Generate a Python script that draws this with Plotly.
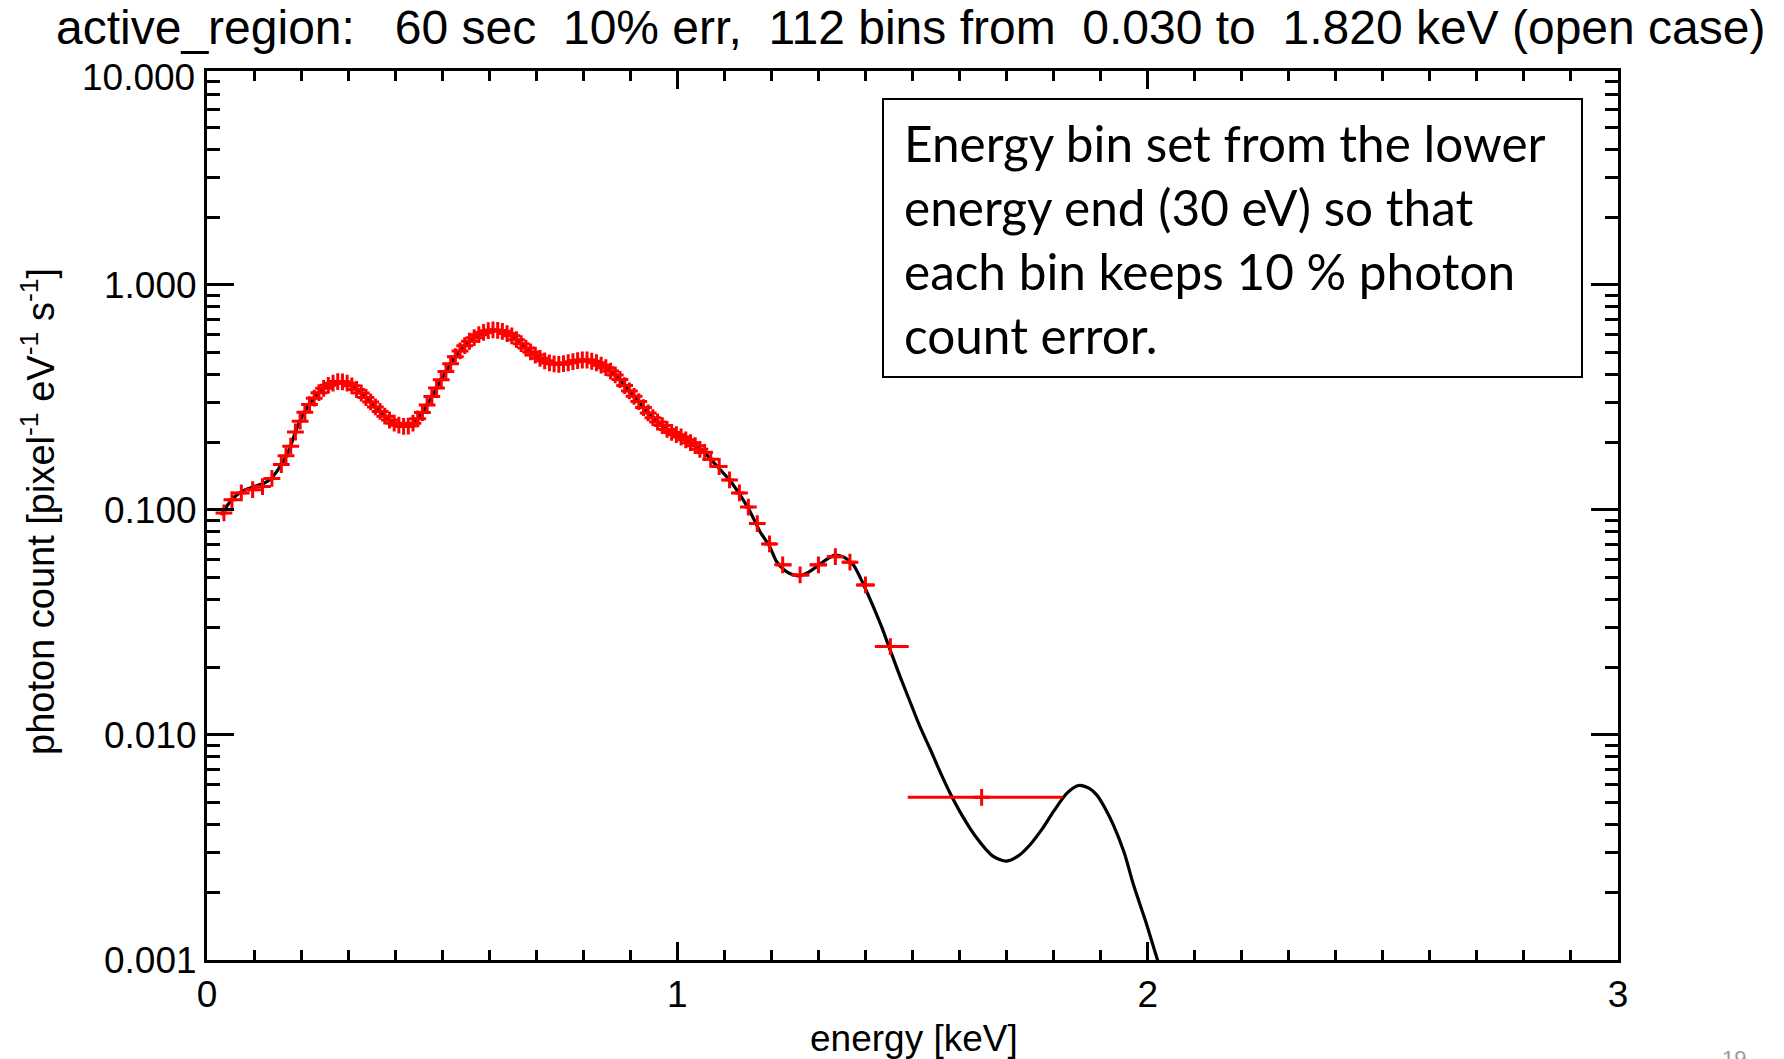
import plotly.graph_objects as go

# ---------------- data ----------------
# model spectrum (black curve): energy [keV], photon count
model_energy = [0.030, 0.045, 0.060, 0.075, 0.091, 0.105, 0.120, 0.135, 0.150, 0.162,
                0.176, 0.191, 0.212, 0.240, 0.260, 0.279, 0.295, 0.311, 0.330, 0.347,
                0.365, 0.382, 0.400, 0.418, 0.432, 0.446, 0.460, 0.474, 0.488, 0.502,
                0.516, 0.531, 0.548, 0.566, 0.585, 0.605, 0.625, 0.644, 0.665, 0.687,
                0.708, 0.729, 0.747, 0.765, 0.785, 0.804, 0.827, 0.850, 0.870, 0.892,
                0.913, 0.935, 0.960, 0.984, 1.006, 1.024, 1.041, 1.056, 1.069, 1.091,
                1.111, 1.133, 1.155, 1.176, 1.196, 1.211, 1.228, 1.243, 1.261, 1.280,
                1.296, 1.316, 1.335, 1.355, 1.374, 1.395, 1.417, 1.435, 1.452, 1.473,
                1.495, 1.515, 1.537, 1.558, 1.580, 1.605, 1.637, 1.670, 1.700, 1.725,
                1.750, 1.775, 1.800, 1.828, 1.853, 1.875, 1.892, 1.910, 1.927, 1.950,
                1.970, 1.995, 2.019, 2.040]
model_flux = [0.095, 0.106, 0.115, 0.121, 0.125, 0.128, 0.131, 0.137, 0.150, 0.164,
              0.188, 0.231, 0.283, 0.336, 0.360, 0.372, 0.368, 0.353, 0.328, 0.303,
              0.278, 0.256, 0.241, 0.235, 0.238, 0.251, 0.275, 0.308, 0.348, 0.392,
              0.440, 0.489, 0.537, 0.580, 0.612, 0.631, 0.624, 0.600, 0.555, 0.506,
              0.472, 0.449, 0.444, 0.449, 0.460, 0.465, 0.452, 0.427, 0.395, 0.348,
              0.312, 0.274, 0.244, 0.223, 0.212, 0.201, 0.191, 0.181, 0.170, 0.151,
              0.136, 0.117, 0.098, 0.080, 0.069, 0.059, 0.054, 0.0518, 0.051, 0.053,
              0.056, 0.060, 0.063, 0.0615, 0.057, 0.047, 0.037, 0.030, 0.0240, 0.0183,
              0.0140, 0.0110, 0.0087, 0.0069, 0.0055, 0.0044, 0.00347, 0.0029, 0.00275, 0.0029,
              0.00325, 0.0038, 0.00457, 0.0055, 0.00596, 0.0058, 0.0054, 0.0047, 0.00398, 0.0030,
              0.00215, 0.0015, 0.00103, 0.00075]

# binned points (red crosses), 112 bins from 0.030 to 1.820 keV
low_energy = [0.036, 0.053, 0.073, 0.097, 0.118, 0.138]
low_flux = [0.097, 0.111, 0.119, 0.123, 0.127, 0.138]
low_half_width = [0.007, 0.010, 0.011, 0.011, 0.010, 0.009]

mid_energy = [0.158, 0.168, 0.178, 0.188, 0.198, 0.208, 0.218, 0.228, 0.238, 0.248,
              0.258, 0.268, 0.278, 0.288, 0.298, 0.308, 0.318, 0.328, 0.338, 0.348,
              0.358, 0.368, 0.378, 0.388, 0.398, 0.408, 0.418, 0.428, 0.438, 0.448,
              0.458, 0.468, 0.478, 0.488, 0.498, 0.508, 0.518, 0.528, 0.538, 0.548,
              0.558, 0.568, 0.578, 0.588, 0.598, 0.608, 0.618, 0.628, 0.638, 0.648,
              0.658, 0.668, 0.678, 0.688, 0.698, 0.708, 0.718, 0.728, 0.738, 0.748,
              0.758, 0.768, 0.778, 0.788, 0.798, 0.808, 0.818, 0.828, 0.838, 0.848,
              0.858, 0.868, 0.878, 0.888, 0.898, 0.908, 0.918, 0.928, 0.938, 0.948,
              0.958, 0.968, 0.978, 0.988, 0.998, 1.008, 1.018, 1.028, 1.038, 1.048,
              1.058]
mid_flux = [0.159, 0.174, 0.192, 0.222, 0.248, 0.272, 0.294, 0.314, 0.332, 0.347,
            0.358, 0.366, 0.372, 0.371, 0.366, 0.356, 0.343, 0.331, 0.316, 0.302,
            0.287, 0.274, 0.261, 0.251, 0.243, 0.238, 0.235, 0.236, 0.243, 0.254,
            0.271, 0.293, 0.319, 0.348, 0.379, 0.412, 0.447, 0.480, 0.509, 0.537,
            0.562, 0.583, 0.601, 0.615, 0.626, 0.631, 0.628, 0.622, 0.608, 0.594,
            0.571, 0.548, 0.524, 0.504, 0.488, 0.472, 0.460, 0.450, 0.446, 0.444,
            0.447, 0.451, 0.456, 0.461, 0.464, 0.464, 0.458, 0.451, 0.440, 0.429,
            0.414, 0.398, 0.380, 0.357, 0.338, 0.320, 0.303, 0.285, 0.270, 0.257,
            0.246, 0.237, 0.228, 0.221, 0.216, 0.211, 0.205, 0.199, 0.193, 0.186,
            0.180]
mid_half_width = [0.005] * len(mid_energy)

high_energy = [1.071, 1.089, 1.111, 1.132, 1.151, 1.170, 1.196, 1.224, 1.261, 1.300,
               1.336, 1.367, 1.400, 1.453, 1.647]
high_flux = [0.168, 0.156, 0.136, 0.119, 0.103, 0.087, 0.0706, 0.057, 0.0514, 0.057,
             0.062, 0.0586, 0.0464, 0.0247, 0.00528]
high_width_minus = [0.008, 0.010, 0.011, 0.011, 0.009, 0.009, 0.013, 0.014, 0.018, 0.019,
                    0.018, 0.015, 0.020, 0.033, 0.157]
high_width_plus = [0.008, 0.011, 0.010, 0.010, 0.010, 0.013, 0.014, 0.019, 0.020, 0.018,
                   0.016, 0.013, 0.020, 0.039, 0.172]

x_tick_values = [0, 1, 2, 3]
title_text = ("active_region:\u00a0\u00a0\u00a060 sec\u00a0\u00a010% err,\u00a0\u00a0112 bins from"
              "\u00a0\u00a00.030 to\u00a0\u00a01.820 keV (open case)")
note_lines = ["Energy bin set from the lower",
              "energy end (30 eV) so that",
              "each bin keeps 10 % photon",
              "count error."]

# ---------------- figure ----------------
bin_energy = low_energy + mid_energy + high_energy
bin_flux = low_flux + mid_flux + high_flux
bin_dx_minus = low_half_width + mid_half_width + high_width_minus
bin_dx_plus = low_half_width + mid_half_width + high_width_plus

W, H = 1784, 1059
L, R, T, B = 207, 1618, 71, 960


def px(x):
    return (x - L) / (R - L)


def py(y):
    return (B - y) / (B - T)


FONT = "Liberation Sans, Arial, Helvetica, sans-serif"
fig = go.Figure()
fig.add_trace(go.Scatter(
    x=model_energy, y=model_flux, mode="lines",
    line=dict(color="black", width=3.2, shape="spline", smoothing=0.8),
    hoverinfo="skip", showlegend=False))
fig.add_trace(go.Scatter(
    x=bin_energy, y=bin_flux, mode="markers",
    marker=dict(symbol="cross-thin", size=12, color="red",
                line=dict(color="red", width=3)),
    error_x=dict(type="data", symmetric=False, array=bin_dx_plus,
                 arrayminus=bin_dx_minus, color="red", thickness=3, width=0),
    showlegend=False))

axis_font = dict(family=FONT, size=37, color="black")
fig.update_xaxes(
    range=[0, 3], tickmode="array", tickvals=x_tick_values,
    ticktext=[str(v) for v in x_tick_values],
    ticks="inside", ticklen=18, tickwidth=2.5, tickcolor="black",
    showline=True, linewidth=3, linecolor="black", mirror="allticks",
    showgrid=False, zeroline=False, tickfont=axis_font, ticklabelstandoff=0,
    minor=dict(tickmode="linear", tick0=0, dtick=0.1, ticks="inside", ticklen=10,
               tickwidth=2.5, tickcolor="black", showgrid=False))
fig.update_yaxes(
    type="log", range=[-3.0005, 0.951], tickmode="linear", tick0=0, dtick=1,
    tickformat=".3f",
    ticks="inside", ticklen=27, tickwidth=2.5, tickcolor="black",
    showline=True, linewidth=3, linecolor="black", mirror="allticks",
    showgrid=False, zeroline=False, tickfont=axis_font, ticklabelstandoff=0,
    minor=dict(tickmode="array",
               tickvals=[m * 10.0 ** e for e in range(-3, 1) for m in range(2, 10)],
               ticks="inside", ticklen=13, tickwidth=2.5, tickcolor="black",
               showgrid=False))

annotations = [
    dict(text=title_text, x=px(910), y=py(28), xref="paper", yref="paper",
         xanchor="center", yanchor="middle", showarrow=False,
         font=dict(family=FONT, size=48, color="black")),
    dict(text="10.000", x=px(197), y=py(78), xref="paper", yref="paper",
         xanchor="right", yanchor="middle", showarrow=False, font=axis_font),
    dict(text="photon count [pixel<sup>-1</sup> eV<sup>-1</sup> s<sup>-1</sup>]",
         x=px(38), y=py(512), xref="paper", yref="paper", textangle=-90,
         xanchor="center", yanchor="middle", showarrow=False,
         font=dict(family=FONT, size=38, color="black")),
    dict(text="energy [keV]", x=px(914), y=py(1038), xref="paper", yref="paper",
         xanchor="center", yanchor="middle", showarrow=False, font=axis_font),
    dict(text="19", x=px(1734), y=py(1044), xref="paper", yref="paper",
         xanchor="center", yanchor="top", showarrow=False,
         font=dict(family=FONT, size=22, color="#9a9a9a")),
]
for i, line in enumerate(note_lines):
    annotations.append(dict(
        text=line, x=px(902), y=py(143 + 64 * i), xref="paper", yref="paper",
        xanchor="left", yanchor="middle", showarrow=False,
        font=dict(family="Lato, Carlito, Calibri, sans-serif", size=49.5, color="black")))

fig.update_layout(
    width=W, height=H,
    margin=dict(l=L, r=W - R, t=T, b=H - B, pad=0),
    paper_bgcolor="white", plot_bgcolor="white",
    annotations=annotations,
    shapes=[dict(type="rect", xref="paper", yref="paper",
                 x0=px(883), x1=px(1582), y0=py(377), y1=py(99),
                 line=dict(color="black", width=2), fillcolor="white", layer="above")],
    hovermode=False,
)

fig.write_html("out.html", config=dict(displayModeBar=False))
